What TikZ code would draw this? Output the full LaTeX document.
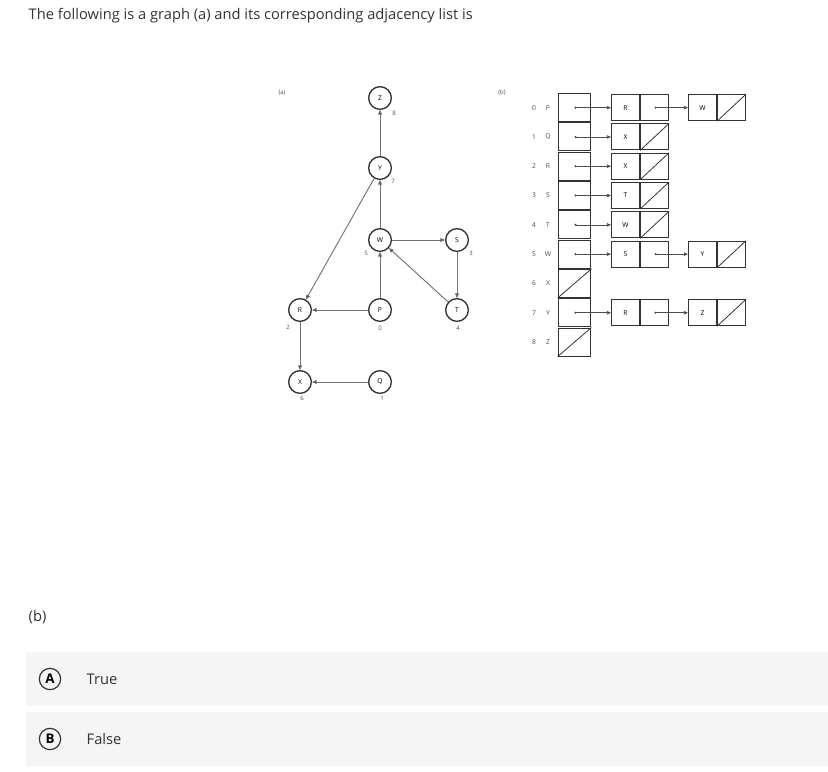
\documentclass[tikz,border=0pt]{standalone}
\usepackage{fontspec}
\setmainfont{Open Sans}
\usetikzlibrary{arrows.meta}
\begin{document}
\begin{tikzpicture}[x=0.75pt,y=-0.75pt,
 vtx/.style={circle,draw=black!80,line width=1pt,minimum size=17pt,inner sep=0pt,font=\fontsize{5}{6}\selectfont},
 lbl/.style={font=\fontsize{4.5}{5}\selectfont,text=black!70},
 edge/.style={draw=black!55,line width=0.7pt,-{Triangle[length=3.5pt,width=3pt,fill=black]}},
 cell/.style={draw=black!80,line width=0.8pt,minimum width=24.5pt,minimum height=21pt,inner sep=0pt,font=\fontsize{5}{6}\selectfont},
 half/.style={draw=black!80,line width=0.8pt,minimum width=21pt,minimum height=19.5pt,inner sep=0pt,font=\fontsize{5}{6}\selectfont},
 ptr/.style={draw=black!70,line width=0.5pt,{Circle[length=1.5pt]}-{Triangle[length=3pt,width=2.5pt]}},
 idx/.style={font=\fontsize{5}{6}\selectfont,text=black!70,anchor=center}]
\useasboundingbox (0,0) rectangle (828,771);
\node[anchor=west,font=\fontsize{11}{13}\selectfont,text=black!80] (title) at (24,16) {The following is a graph (a) and its corresponding adjacency list is};
% graph
\node[lbl] (la) at (282,93) {(a)};
\node[vtx] (Z) at (380,98) {Z};
\node[vtx] (Y) at (380,168) {Y};
\node[vtx] (W) at (380,240) {W};
\node[vtx] (S) at (457,240) {S};
\node[vtx] (R) at (300,310) {R};
\node[vtx] (P) at (380,310) {P};
\node[vtx] (T) at (457,310) {T};
\node[vtx] (X) at (300,382) {X};
\node[vtx] (Q) at (380,382) {Q};
\node[lbl] (nZ) at (394,113) {8};
\node[lbl] (nY) at (393,181) {7};
\node[lbl] (nW) at (366,253) {5};
\node[lbl] (nS) at (471,253) {3};
\node[lbl] (nR) at (288,327) {2};
\node[lbl] (nP) at (380,328) {0};
\node[lbl] (nT) at (458,328) {4};
\node[lbl] (nX) at (302,398) {6};
\node[lbl] (nQ) at (382,398) {1};
\draw[edge] (Y) -- (Z);
\draw[edge] (W) -- (Y);
\draw[edge] (Y) -- (R);
\draw[edge] (W) -- (S);
\draw[edge] (S) -- (T);
\draw[edge] (T) -- (W);
\draw[edge] (P) -- (W);
\draw[edge] (P) -- (R);
\draw[edge] (R) -- (X);
\draw[edge] (Q) -- (X);
% list
\node[lbl] (lb) at (502,93) {(b)};
\foreach \i/\v in {0/P,1/Q,2/R,3/S,4/T,5/W,6/X,7/Y,8/Z}{
  \node[cell] (m\i) at (574.5,{93+29.3*(\i+0.5)}) {};
  \node[idx] (d\i) at (534,{93+29.3*(\i+0.5)}) {\i};
  \node[idx] (v\i) at (548,{93+29.3*(\i+0.5)}) {\v};
}
\draw[black!80,line width=0.6pt] (m6.south west) -- (m6.north east);
\draw[black!80,line width=0.6pt] (m8.south west) -- (m8.north east);
\newcommand{\lnode}[4]{% name, x, row, letter
  \node[half] (#1a) at (#2,{93+29.3*(#3+0.5)}) {#4};
  \node[half,anchor=west] (#1b) at (#1a.east) {};
}
\lnode{p1}{625.5}{0}{R}\lnode{p2}{702.5}{0}{W}
\lnode{q1}{625.5}{1}{X}
\lnode{r1}{625.5}{2}{X}
\lnode{s1}{625.5}{3}{T}
\lnode{t1}{625.5}{4}{W}
\lnode{w1}{625.5}{5}{S}\lnode{w2}{702.5}{5}{Y}
\lnode{y1}{625.5}{7}{R}\lnode{y2}{702.5}{7}{Z}
\foreach \n in {p2,q1,r1,s1,t1,w2,y2}{\draw[black!80,line width=0.6pt] (\n b.south west) -- (\n b.north east);}
\foreach \m/\n in {m0/p1a,m1/q1a,m2/r1a,m3/s1a,m4/t1a,m5/w1a,m7/y1a,p1b/p2a,w1b/w2a,y1b/y2a}{\draw[ptr] (\m.center) -- (\n.west);}
% bottom
\node[anchor=west,font=\fontsize{11}{13}\selectfont,text=black!80] (bq) at (24,617) {(b)};
\fill[black!4] (26,652) rectangle (828,706);
\fill[black!4] (26,712) rectangle (828,766);
\node[circle,draw=black!80,line width=0.9pt,minimum size=16pt,inner sep=0pt,font=\bfseries\fontsize{10}{12}\selectfont] (A) at (50,679) {A};
\node[circle,draw=black!80,line width=0.9pt,minimum size=16pt,inner sep=0pt,font=\bfseries\fontsize{10}{12}\selectfont] (B) at (50,739) {B};
\node[anchor=west,font=\fontsize{11}{13}\selectfont,text=black!80] (tA) at (82,679) {True};
\node[anchor=west,font=\fontsize{11}{13}\selectfont,text=black!80] (tB) at (82,739) {False};
\end{tikzpicture}
\end{document}
